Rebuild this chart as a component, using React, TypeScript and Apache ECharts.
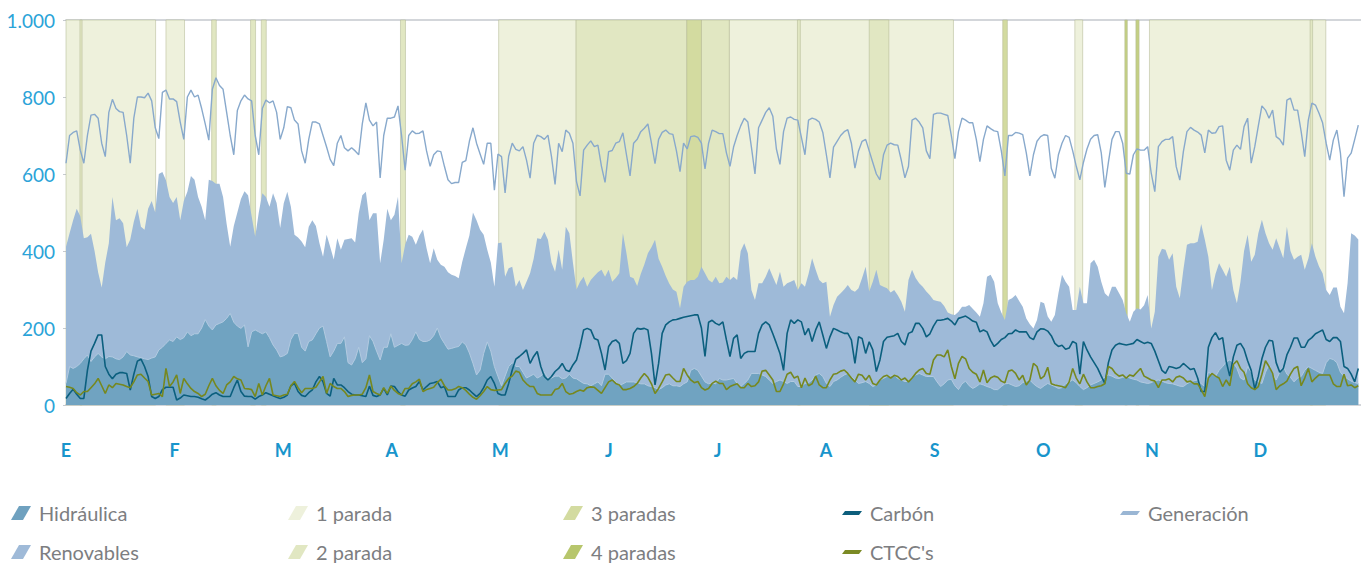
import React, { useEffect, useRef } from "react";
import * as echarts from "echarts";

// Month tick labels (one per month, equally spaced)
const MONTHS = ["E", "F", "M", "A", "M", "J", "J", "A", "S", "O", "N", "D"];
const DAYS_IN_YEAR = 365;

// Daily values (GWh), day 0 = 1 January
const generacion = [
  628,700,708,712,662,628,700,753,755,745, 680,645,760,794,770,762,760,700,628,745,
  800,800,798,810,790,720,692,812,818,795, 795,788,735,690,800,818,800,805,770,730,
  688,820,850,830,820,760,700,650,765,790, 805,795,790,700,650,770,792,785,790,760,
  690,720,775,772,740,730,660,628,690,735, 735,730,700,670,638,622,680,700,668,660,
  668,660,650,730,785,740,725,735,590,700, 745,745,748,777,700,610,700,712,705,706,
  712,660,620,650,660,658,620,585,575,578, 578,630,635,685,720,680,652,625,680,680,
  558,652,645,551,646,680,664,660,671,636, 589,680,701,697,690,701,645,573,680,658,
  714,706,680,580,543,662,675,686,671,675, 620,578,658,661,680,684,707,650,595,680,
  690,710,719,730,680,627,690,708,714,705, 703,660,606,680,665,697,699,695,680,613,
  680,714,710,705,705,655,620,670,700,725, 745,735,670,600,720,740,760,772,750,665,
  625,710,745,748,742,740,695,650,740,745, 742,735,708,650,590,670,685,700,710,715,
  680,615,660,685,690,660,630,600,585,650, 675,680,676,675,635,590,620,740,745,735,
  720,660,640,755,758,758,755,752,700,640, 710,745,740,733,733,690,632,690,725,718,
  712,710,660,595,700,700,708,706,702,655, 595,650,685,697,702,700,615,589,650,680,
  700,695,660,620,585,630,665,690,700,702, 655,565,630,690,710,710,680,602,600,650,
  665,662,662,671,602,554,671,684,690,690, 697,619,584,658,710,721,714,709,701,655,
  714,706,707,723,725,636,610,662,675,664, 723,745,628,671,725,777,766,745,766,697,
  690,675,792,797,766,766,710,645,740,784, 779,758,733,680,636,688,714,654,541,641,
  654,690,727,
];

const renovables = [
  411,446,480,510,490,433,436,445,400,345, 305,370,420,540,480,485,472,410,430,476,
  510,463,455,510,530,500,600,605,584,540, 525,540,480,530,554,595,585,540,515,480,
  585,582,575,575,540,470,411,465,500,535, 555,545,490,437,500,550,540,515,550,525,
  460,524,554,515,442,435,425,410,463,480, 465,420,385,442,411,378,433,403,429,431,
  433,422,498,545,554,480,498,498,368,429, 510,480,494,541,368,416,442,437,416,440,
  456,407,368,407,377,364,359,345,338,335, 329,372,407,440,500,480,455,442,403,370,
  307,420,422,333,355,359,307,325,299,320, 342,380,433,431,450,429,370,346,403,351,
  463,446,370,300,320,333,307,325,335,345, 351,333,351,320,330,342,446,394,333,329,
  309,340,365,394,410,429,380,359,335,315, 300,294,251,307,320,325,325,333,359,342,
  325,318,333,316,318,333,325,333,325,400, 420,394,299,273,316,316,333,355,333,312,
  346,307,316,320,325,299,316,307,340,381, 351,325,316,320,229,260,281,290,300,312,
  299,294,303,330,359,295,320,351,312,307, 303,292,299,285,268,242,325,351,330,316,
  307,295,285,273,270,268,257,240,236,234, 242,255,255,260,250,240,229,264,333,338,
  320,264,240,221,273,277,286,270,255,225, 210,199,221,268,264,230,216,234,290,338,
  320,307,247,247,307,264,264,368,377,359, 320,290,281,307,307,290,273,238,216,242,
  251,248,259,286,199,242,385,406,403,377, 394,307,277,351,416,420,420,424,470,430,
  385,299,340,368,351,333,359,299,264,320, 400,442,372,390,446,481,446,420,403,433,
  407,381,463,400,377,385,390,351,380,420, 385,360,342,299,286,305,305,255,238,316,
  446,440,430,
];

const hidraulica = [
  56,100,95,100,108,120,130,113,125,134, 125,120,126,125,120,118,125,139,130,128,
  125,123,120,118,122,125,143,150,160,169, 165,177,170,175,190,180,185,185,200,222,
  205,195,208,212,216,225,238,215,205,199, 208,151,190,195,190,185,190,175,156,143,
  125,128,134,170,186,186,150,140,165,169, 185,200,205,165,125,140,160,160,177,110,
  104,120,150,110,120,180,165,140,117,150, 150,185,150,155,160,155,156,170,190,170,
  165,165,169,180,200,175,160,145,147,150, 152,164,156,135,108,78,91,134,164,140,
  100,74,50,75,100,110,100,100,85,70, 75,80,70,75,85,70,70,75,75,68,
  70,80,70,68,62,56,55,50,55,60, 50,80,80,70,60,50,55,60,60,60,
  58,55,55,50,48,45,40,45,52,55, 50,50,48,55,60,90,95,90,75,60,
  55,58,55,69,65,65,67,69,56,48, 56,65,82,82,82,78,74,65,56,61,
  65,61,56,61,61,48,48,56,58,65, 78,82,74,56,48,61,65,72,78,82,
  74,65,56,58,61,56,48,52,65,69, 74,75,78,69,65,61,61,74,78,82,
  78,74,74,74,60,48,55,65,67,50, 40,55,62,50,43,48,55,52,48,45,
  40,40,48,55,56,52,48,50,58,62, 65,55,48,43,50,56,52,48,43,45,
  55,60,65,58,48,40,45,52,56,60, 65,72,78,75,70,69,72,74,70,67,
  65,60,58,56,58,63,65,62,58,56, 55,52,49,48,55,60,63,65,55,48,
  85,80,74,90,100,112,117,110,95,70, 65,100,85,65,60,56,85,105,80,65,
  85,100,80,72,60,70,74,90,100,95, 90,85,82,110,121,118,110,85,74,68,
  62,58,56,
];

const carbon = [
  17,30,41,28,17,17,90,140,160,182, 182,100,80,68,80,84,84,82,39,80,
  114,119,100,74,22,17,22,40,46,46, 46,13,18,26,24,22,22,20,16,13,
  20,28,32,26,22,22,22,45,65,35, 23,22,22,15,22,26,32,28,24,20,
  17,20,26,50,56,35,25,22,32,39, 60,74,60,30,23,69,52,52,45,35,
  28,26,26,24,22,49,25,22,26,43, 26,49,48,35,26,23,39,44,48,61,
  39,48,56,58,61,45,48,22,22,22, 39,45,45,39,30,22,30,45,65,74,
  56,30,26,26,56,91,119,126,134,143, 108,126,139,100,74,65,74,87,95,108,
  91,87,104,117,152,195,199,195,173,169, 134,91,152,165,169,160,108,115,134,186,
  199,197,199,195,134,52,108,186,208,216, 221,222,225,228,230,232,234,234,200,126,
  215,220,212,208,216,169,126,173,182,121, 134,139,139,139,186,208,216,208,185,160,
  134,90,186,221,212,221,216,182,199,165, 195,216,182,147,177,199,195,190,186,186,
  169,108,177,173,134,164,143,87,117,165, 176,178,180,186,165,156,186,190,212,212,
  199,177,185,205,220,220,222,225,218,208, 225,228,231,225,218,215,190,195,190,168,
  152,160,170,175,185,186,195,190,190,190, 175,170,190,198,197,192,180,160,152,155,
  145,148,165,160,80,165,143,125,110,95, 75,56,110,143,155,160,158,156,158,160,
  170,165,160,163,160,140,115,90,82,100, 98,95,98,108,100,92,95,70,35,35,
  150,175,188,170,175,113,75,125,155,160, 145,115,90,41,75,120,150,168,166,110,
  85,95,130,150,174,174,150,150,168,175, 185,190,195,170,165,175,175,165,100,95,
  80,60,95,
];

const ctcc = [
  48,46,43,32,26,35,35,45,55,69, 50,30,52,45,56,54,52,48,45,60,
  78,80,70,61,26,28,30,22,95,48, 60,78,30,69,55,43,35,30,22,28,
  50,69,50,38,30,52,60,74,68,65, 43,42,40,22,56,26,50,69,26,24,
  22,26,28,50,61,45,32,43,43,43, 46,60,74,30,56,48,43,43,35,22,
  25,26,26,28,45,78,35,30,26,45, 30,49,38,30,26,43,43,55,60,67,
  35,40,43,46,58,67,50,39,39,42, 48,45,38,28,20,15,24,35,48,40,
  38,39,40,56,69,75,88,85,65,55, 48,48,30,26,26,26,26,40,43,56,
  35,28,30,35,39,36,45,47,46,38, 30,45,60,65,56,52,40,40,43,48,
  56,70,82,72,55,30,43,60,78,80, 70,61,61,95,78,65,58,61,45,39,
  43,56,62,56,56,40,48,52,55,45, 45,56,48,50,60,88,90,78,65,35,
  35,55,80,85,70,75,45,70,50,55, 75,52,45,45,65,80,82,88,91,82,
  70,60,80,77,65,77,56,52,65,74, 77,70,77,74,65,70,60,70,82,91,
  95,82,80,117,130,130,125,143,100,68, 108,126,120,95,85,80,60,91,58,70,
  75,72,62,58,88,91,82,65,77,52, 65,108,100,68,75,98,55,52,50,48,
  45,60,95,70,55,80,60,45,45,48, 50,55,100,95,82,75,78,70,78,75,
  85,95,75,70,65,62,45,65,65,68, 60,72,75,70,60,62,55,55,40,22,
  70,82,75,70,48,65,50,105,115,95, 85,55,45,40,48,80,115,100,82,40,
  50,55,62,80,95,100,50,70,95,60, 70,78,78,78,78,55,48,48,80,50,
  52,45,50,
];

// Nuclear stop periods: start day, end day, number of simultaneous stops
const paradaStart = [0, 3.9, 28, 40.8, 51.7, 54.7, 93.7, 121.2, 142.9, 173.9, 178, 185.8, 204.9, 225, 262.4, 282.6, 296.6, 299.7, 303.5, 348.5];
const paradaEnd   = [25.1, 4.5, 33.2, 42.1, 53.1, 56.1, 95.1, 142.9, 173.9, 178, 185.8, 248.6, 205.7, 230.5, 263.7, 284.8, 297.3, 300.6, 352.9, 349.2];
const paradaCount = [1, 2, 1, 2, 2, 2, 2, 1, 2, 3, 2, 1, 2, 2, 3, 1, 4, 4, 1, 2];

const PARADA_NAMES = ["1 parada", "2 parada", "3 paradas", "4 paradas"];
const PARADA_COLORS = ["#eef1dc", "#e1e7c2", "#d3dba0", "#c4d083"];

const AREA_ICON = "path://M8,0 L20,0 L12,14 L0,14 Z";
const LINE_ICON = "path://M3,0 L20,0 L17,4 L0,4 Z";

const dayToX = (d: number) => (d * MONTHS.length) / DAYS_IN_YEAR;
const toXY = (arr: number[]) => arr.map((v, i) => [dayToX(i), v]);
const thousands = (v: number) => String(v).replace(/\B(?=(\d{3})+(?!\d))/g, ".");

export default function App() {
  const ref = useRef<HTMLDivElement>(null);

  useEffect(() => {
    if (!ref.current) return;
    const chart = echarts.init(ref.current, undefined, { renderer: "svg" });

    const legendText = { color: "#7d7e81", fontSize: 20, fontFamily: "Lato", lineHeight: 24 };
    const legendBase = {
      orient: "vertical",
      top: 501,
      height: 90,
      itemGap: 15,
      selectedMode: false,
      textStyle: legendText,
      padding: 0,
    };

    const paradaSeries = PARADA_NAMES.map((name, k) => ({
      name,
      type: "line",
      data: [] as number[][],
      color: PARADA_COLORS[k],
      z: 1,
      silent: true,
      markArea: {
        silent: true,
        label: { show: false },
        itemStyle: { color: PARADA_COLORS[k], borderColor: "rgba(180,186,150,0.55)", borderWidth: 1 },
        data: paradaStart
          .map((s, i) => ({ s, e: paradaEnd[i], c: paradaCount[i] }))
          .filter((r) => r.c === k + 1)
          .map((r) => [{ xAxis: dayToX(r.s) }, { xAxis: dayToX(r.e) }]),
      },
    }));

    const option: any = {
      animation: false,
      grid: { left: 66, right: 0, top: 20, bottom: 158 },
      xAxis: [
        {
          type: "value",
          min: 0,
          max: 12,
          interval: 1,
          position: "bottom",
          offset: 2,
          axisLine: { show: true, lineStyle: { color: "#d3d6da", width: 2 } },
          axisTick: { show: false },
          splitLine: { show: false },
          axisLabel: {
            formatter: (v: number) => MONTHS[v] ?? "",
            color: "#1895cc",
            fontWeight: "bold",
            fontSize: 18,
            fontFamily: "Lato",
            margin: 34,
          },
        },
        {
          type: "value",
          min: 0,
          max: 12,
          position: "top",
          axisLine: { show: true, lineStyle: { color: "#d3d6da", width: 2 } },
          axisTick: { show: false },
          axisLabel: { show: false },
          splitLine: { show: false },
        },
      ],
      yAxis: {
        type: "value",
        min: 0,
        max: 1000,
        interval: 200,
        axisLine: { show: false },
        axisTick: { show: true, length: 3, lineStyle: { color: "#c6cacf" } },
        splitLine: { show: false },
        axisLabel: {
          formatter: (v: number) => thousands(v),
          color: "#2ba3d8",
          fontSize: 19,
          fontFamily: "Lato",
          margin: 11,
        },
      },
      legend: [
        {
          ...legendBase, left: 11, itemWidth: 26, itemHeight: 14,
          data: [
            { name: "Hidráulica", icon: AREA_ICON, itemStyle: { color: "#6fa1bf" } },
            { name: "Renovables", icon: AREA_ICON, itemStyle: { color: "#9fbad8" } },
          ],
        },
        {
          ...legendBase, left: 288, itemWidth: 26, itemHeight: 14,
          data: [
            { name: "1 parada", icon: AREA_ICON, itemStyle: { color: PARADA_COLORS[0] } },
            { name: "2 parada", icon: AREA_ICON, itemStyle: { color: PARADA_COLORS[1] } },
          ],
        },
        {
          ...legendBase, left: 563, itemWidth: 26, itemHeight: 14,
          data: [
            { name: "3 paradas", icon: AREA_ICON, itemStyle: { color: PARADA_COLORS[2] } },
            { name: "4 paradas", icon: AREA_ICON, itemStyle: { color: "#b7c66c" } },
          ],
        },
        {
          ...legendBase, left: 842, itemWidth: 26, itemHeight: 4,
          data: [
            { name: "Carbón", icon: LINE_ICON, itemStyle: { color: "#0d5e7c" } },
            { name: "CTCC's", icon: LINE_ICON, itemStyle: { color: "#7b8a24" } },
          ],
        },
        {
          ...legendBase, left: 1120, itemWidth: 26, itemHeight: 4,
          data: [{ name: "Generación", icon: LINE_ICON, itemStyle: { color: "#9ab6d4" } }],
        },
      ],
      series: [
        ...paradaSeries,
        {
          name: "Renovables",
          type: "line",
          data: toXY(renovables),
          symbol: "none",
          z: 2,
          color: "#9ebad8",
          lineStyle: { width: 0, color: "#9ebad8" },
          areaStyle: { color: "#9ebad8", opacity: 1 },
        },
        {
          name: "Hidráulica",
          type: "line",
          data: toXY(hidraulica),
          symbol: "none",
          z: 2,
          color: "#70a3c1",
          lineStyle: { width: 1, color: "#b2cae0" },
          areaStyle: { color: "#70a3c1", opacity: 1 },
        },
        {
          name: "Generación",
          type: "line",
          data: toXY(generacion),
          symbol: "none",
          z: 3,
          color: "#88a9cc",
          lineStyle: { width: 1.4, color: "#88a9cc" },
        },
        {
          name: "Carbón",
          type: "line",
          data: toXY(carbon),
          symbol: "none",
          z: 3,
          color: "#0b5f7e",
          lineStyle: { width: 1.6, color: "#0b5f7e" },
        },
        {
          name: "CTCC's",
          type: "line",
          data: toXY(ctcc),
          symbol: "none",
          z: 3,
          color: "#76881f",
          lineStyle: { width: 1.6, color: "#76881f" },
        },
      ],
    };

    chart.setOption(option);
    return () => chart.dispose();
  }, []);

  return (
    <div
      style={{ position: "fixed", left: 0, top: 0, width: 1361, height: 563, overflow: "hidden", background: "#ffffff" }}
    >
      <div ref={ref} style={{ width: 1372, height: 563 }} />
    </div>
  );
}
